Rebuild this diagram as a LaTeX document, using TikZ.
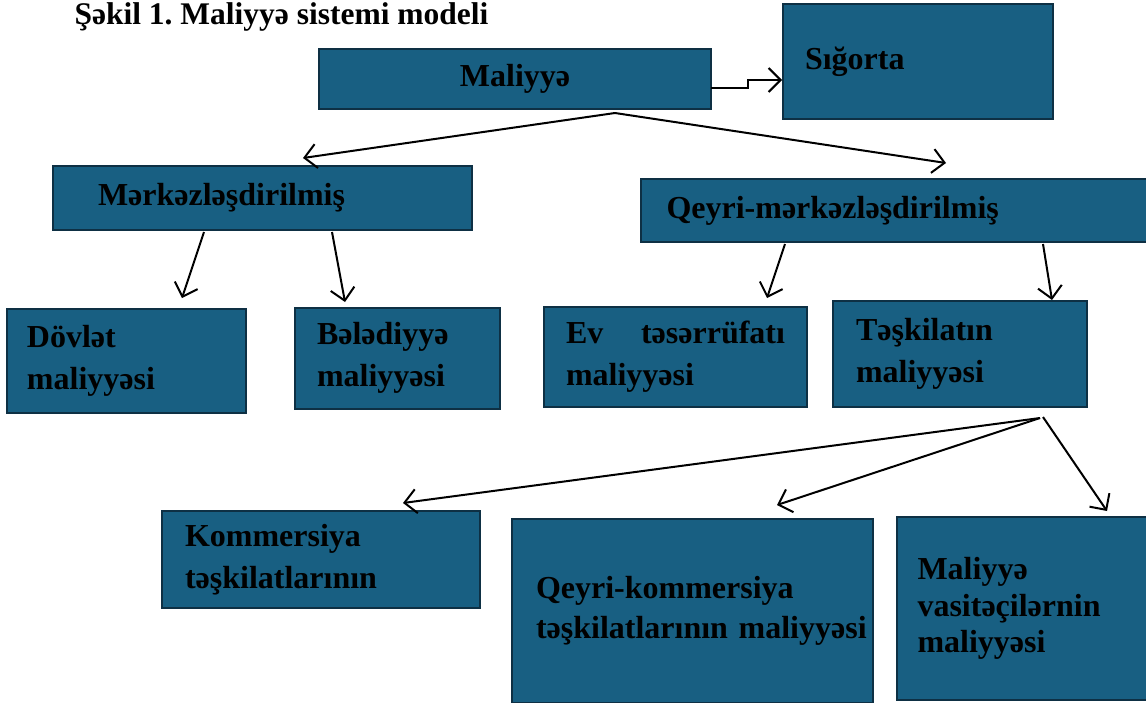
\documentclass[tikz,border=0pt]{standalone}
\usepackage{fontspec}
\setmainfont{Liberation Serif}
\usetikzlibrary{arrows.meta}
\definecolor{boxfill}{RGB}{24,95,130}
\definecolor{boxline}{RGB}{14,48,68}
\frenchspacing
\begin{document}
\begin{tikzpicture}[x=1pt,y=-1pt,
  box/.style={draw=boxline,line width=2pt,fill=boxfill,inner ysep=0pt,align=left,
    font=\fontsize{32}{42}\selectfont\bfseries,text=black},
  conn/.style={line width=2pt,-{Straight Barb[length=12pt,width=24pt,line width=2pt]}}]
\useasboundingbox (0,0) rectangle (1146,702);
\node[anchor=base west,font=\fontsize{31.5}{35}\selectfont\bfseries] (title) at (71,24) {Şəkil 1. Maliyyə sistemi modeli};
% boxes: text width = w - 2*xsep
\node[box,minimum height=60pt,inner xsep=0pt,text width=392pt,align=center] (mal) at (515,79) {Maliyyə};
\node[box,minimum height=115pt,inner xsep=22pt,text width=226pt] (sig) at (918,61.5) {Sığorta};
\node[box,minimum height=64pt,inner xsep=45pt,text width=329pt] (mer) at (262.5,198) {Mərkəzləşdirilmiş};
\node[box,minimum height=63pt,inner xsep=26pt,text width=455pt] (qey) at (894,210.5) {Qeyri-mərkəzləşdirilmiş};
\node[box,minimum height=104pt,inner xsep=20pt,text width=199pt] (dov) at (126.5,361) {Dövlət\\maliyyəsi};
\node[box,minimum height=101pt,inner xsep=22pt,text width=161pt] (bel) at (397.5,358) {Bələdiyyə\\maliyyəsi};
\node[box,minimum height=100pt,inner xsep=22pt,text width=219pt] (ev) at (675.5,357) {Ev\hfill təsərrüfatı\\maliyyəsi};
\node[box,minimum height=106pt,inner xsep=23pt,text width=208pt] (tas) at (960,354) {Təşkilatın\\maliyyəsi};
\node[box,minimum height=97pt,inner xsep=23pt,text width=272pt] (kom) at (321,559.5) {Kommersiya\\təşkilatlarının};
\node[box,minimum height=184pt,inner xsep=24pt,text width=313pt,font=\fontsize{32}{40}\selectfont\bfseries] (qk) at (692.5,611) {Qeyri-kommersiya\\\mbox{təşkilatlarının maliyyəsi}};
\node[box,minimum height=183pt,inner xsep=21pt,text width=209pt,font=\fontsize{32}{36.5}\selectfont\bfseries] (mv) at (1022,608.5) {Maliyyə\\vasitəçilərnin\\maliyyəsi};
% connector end points
\coordinate (malA) at (711,88);
\coordinate (malB) at (748,88);
\coordinate (malC) at (748,80);
\coordinate (sigE) at (782,80);
\coordinate (malS) at (615,113);
\coordinate (merE) at (303,158);
\coordinate (qeyE) at (946,163);
\coordinate (merS1) at (204,232);
\coordinate (dovE) at (182,298);
\coordinate (merS2) at (332,232);
\coordinate (belE) at (345,302);
\coordinate (qeyS1) at (785,244);
\coordinate (evE) at (767,298);
\coordinate (qeyS2) at (1043,244);
\coordinate (tasE) at (1052,300);
\coordinate (tasS) at (1040,418);
\coordinate (tasS2) at (1043,417);
\coordinate (komE) at (403,503);
\coordinate (qkE) at (777,505);
\coordinate (mvE) at (1107,511);
% connectors
\draw[conn] (malA) -- (malB) -- (malC) -- (sigE);
\draw[conn] (malS) -- (merE);
\draw[conn] (malS) -- (qeyE);
\draw[conn] (merS1) -- (dovE);
\draw[conn] (merS2) -- (belE);
\draw[conn] (qeyS1) -- (evE);
\draw[conn] (qeyS2) -- (tasE);
\draw[conn] (tasS) -- (komE);
\draw[conn] (tasS) -- (qkE);
\draw[conn] (tasS2) -- (mvE);
\end{tikzpicture}
\end{document}
